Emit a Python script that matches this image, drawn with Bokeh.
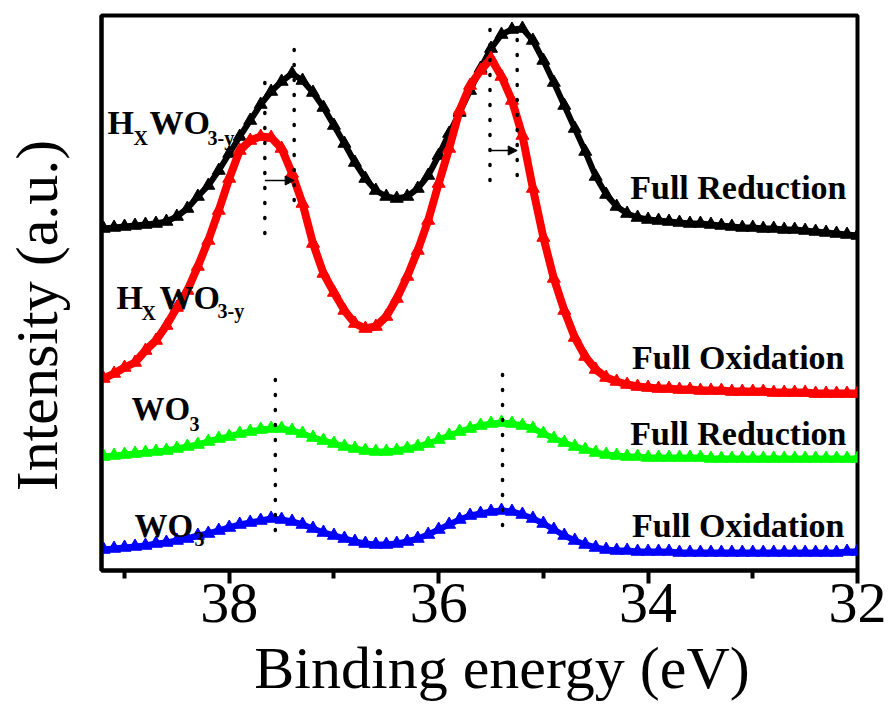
from bokeh.plotting import figure
from bokeh.models import Range1d, FixedTicker, Label, Arrow, NormalHead
from bokeh.embed import file_html
from bokeh.resources import INLINE

# Binding energy grid (eV), 0.1 eV steps from 39.2 down to 32.0
energy = [round(39.2 - 0.1 * i, 1) for i in range(73)]

# W 4f spectra, offset intensities (a.u.)
hxwo_full_reduction = [
    342, 343, 344, 345, 346, 347, 349, 354, 362, 374, 385, 400, 417, 434, 450,
    466, 479, 489, 497, 490, 478, 463, 445, 427, 408, 392, 380, 374, 372, 374,
    382, 395, 415, 437, 458, 480, 502, 522, 536, 541, 542, 530, 510, 488, 465,
    442, 419, 394, 376, 364, 357, 353, 351, 350, 349, 348, 347, 347, 346, 345,
    344, 343, 343, 342, 342, 341, 341, 340, 339, 338, 337, 336, 335]
hxwo_full_oxidation = [
    192, 197, 203, 208, 220, 230, 245, 263, 280, 304, 330, 360, 392, 420, 430,
    434, 433, 422, 397, 367, 327, 297, 278, 260, 247, 242, 244, 254, 272, 294,
    320, 350, 387, 422, 460, 485, 500, 512, 494, 470, 435, 382, 333, 292, 260,
    233, 214, 201, 193, 189, 186, 184, 183, 182, 182, 181, 181, 180, 180, 180,
    179, 179, 179, 179, 178, 178, 178, 178, 177, 177, 177, 177, 177]
wo3_full_reduction = [
    114, 115, 116, 117, 118, 119, 120, 122, 124, 126, 129, 132, 134, 137, 139,
    141, 142, 142, 140, 137, 133, 130, 127, 124, 122, 120, 119, 119, 120, 122,
    124, 127, 131, 135, 139, 142, 145, 147, 148, 147, 145, 142, 137, 132, 128,
    124, 121, 118, 116, 115, 114, 114, 113, 113, 113, 113, 113, 113, 112, 112,
    112, 112, 112, 112, 112, 112, 112, 112, 112, 112, 112, 112, 112]
wo3_full_oxidation = [
    21, 22, 23, 24, 25, 27, 28, 30, 32, 35, 37, 40, 43, 46, 48,
    50, 52, 51, 49, 46, 42, 38, 35, 32, 29, 27, 26, 26, 27, 29,
    32, 36, 41, 46, 51, 55, 57, 59, 60, 59, 56, 52, 47, 41, 35,
    30, 26, 23, 21, 20, 20, 19, 19, 19, 19, 18, 18, 18, 18, 18,
    18, 18, 18, 18, 18, 18, 18, 18, 18, 18, 18, 19, 19]

# Peak positions (eV) marked by dotted guides
hxwo_ox_peaks = [37.66, 35.51]
hxwo_red_peaks = [37.38, 35.25]
wo3_peaks = [37.56, 35.39]

x_major = [38, 36, 34, 32]
x_minor = [39, 37, 35, 33]

SERIF = "Liberation Serif"
NBSP = "\u00a0"

p = figure(width=893, height=704, output_backend="svg", toolbar_location=None,
           x_range=Range1d(39.22, 32.0), y_range=Range1d(0, 555),
           min_border_left=100, min_border_right=36,
           min_border_top=15, min_border_bottom=134)
p.background_fill_color = "white"
p.border_fill_color = "white"
p.outline_line_color = "black"
p.outline_line_width = 4
p.xgrid.visible = False
p.ygrid.visible = False

# x axis
p.xaxis.ticker = FixedTicker(ticks=x_major, minor_ticks=x_minor)
p.xaxis.axis_line_width = 4
p.xaxis.major_tick_line_width = 4
p.xaxis.minor_tick_line_width = 4
p.xaxis.major_tick_out = 13
p.xaxis.major_tick_in = 0
p.xaxis.minor_tick_out = 8
p.xaxis.minor_tick_in = 0
p.xaxis.major_label_text_font = SERIF
p.xaxis.major_label_text_font_size = "58px"
p.xaxis.major_label_text_color = "black"
p.xaxis.major_label_standoff = 0
p.xaxis.axis_label = NBSP * 3 + "Binding energy (eV)"
p.xaxis.axis_label_text_font = SERIF
p.xaxis.axis_label_text_font_size = "60px"
p.xaxis.axis_label_text_font_style = "normal"
p.xaxis.axis_label_text_color = "black"
p.xaxis.axis_label_standoff = 10

# y axis: plain line with the title only
p.yaxis.ticker = FixedTicker(ticks=[])
p.yaxis.axis_line_width = 4
p.yaxis.major_tick_out = 0
p.yaxis.major_tick_in = 0
p.yaxis.minor_tick_out = 0
p.yaxis.minor_tick_in = 0
p.yaxis.major_label_standoff = 0
p.yaxis.axis_label = "Intensity (a.u.)" + NBSP * 3
p.yaxis.axis_label_text_font = SERIF
p.yaxis.axis_label_text_font_size = "60px"
p.yaxis.axis_label_text_font_style = "normal"
p.yaxis.axis_label_text_color = "black"
p.yaxis.axis_label_standoff = 32


def place(px, py):
    # page pixel position -> offset from the plot frame's lower-left corner
    return px - 100, 570 - py


# spectra: lines with triangle markers
curves = [
    (hxwo_full_reduction, "#000000", 6),
    (hxwo_full_oxidation, "#ff0000", 8),
    (wo3_full_reduction, "#00ff00", 6),
    (wo3_full_oxidation, "#0000ff", 6),
]
for ys, color, lw in curves:
    p.line(energy, ys, line_color=color, line_width=lw)
    p.scatter(energy, ys, marker="triangle", size=13, fill_color=color,
              line_color=color)

# dotted peak guides
guide_x = [hxwo_ox_peaks[0], hxwo_red_peaks[0], hxwo_ox_peaks[1], hxwo_red_peaks[1],
           wo3_peaks[0], wo3_peaks[1]]
guide_lo = [337, 370, 390, 395, 40, 45]
guide_hi = [490, 522, 543, 545, 192, 197]
p.segment(x0=guide_x, y0=guide_lo, x1=guide_x, y1=guide_hi, line_color="black",
          line_width=3.5, line_dash="1 14", line_cap="round")

# shift arrows between oxidised and reduced peaks
for (x0, x1, yy) in [(hxwo_ox_peaks[0], hxwo_red_peaks[0], 390),
                     (hxwo_ox_peaks[1], hxwo_red_peaks[1], 420)]:
    p.add_layout(Arrow(end=NormalHead(size=9, fill_color="black", line_color="black"),
                       x_start=x0, y_start=yy, x_end=x1, y_end=yy,
                       line_color="black", line_width=1.5))


def text(px, py, s, size, align="left"):
    sx, sy = place(px, py)
    p.add_layout(Label(x=sx, y=sy, x_units="screen", y_units="screen", text=s,
                       text_font=SERIF, text_font_size=f"{size}px",
                       text_font_style="bold", text_color="black",
                       text_align=align, text_baseline="alphabetic"))


# compound names with subscripts
text(106, 122, "H", 34)
text(132, 137, "X", 20)
text(148, 122, "WO", 34)
text(206, 137, "3-y", 20)

text(115, 297, "H", 34)
text(140, 312, "X", 20)
text(158, 297, "WO", 34)
text(216, 310, "3-y", 20)

text(130, 408, "WO", 33)
text(188, 423, "3", 20)

text(133, 525, "WO", 33)
text(193, 538, "3", 20)

# state labels
text(845, 187, "Full Reduction", 34, align="right")
text(843, 357, "Full Oxidation", 34, align="right")
text(845, 433, "Full Reduction", 34, align="right")
text(843, 525, "Full Oxidation", 34, align="right")

open("out.html", "w").write(file_html(p, INLINE))
